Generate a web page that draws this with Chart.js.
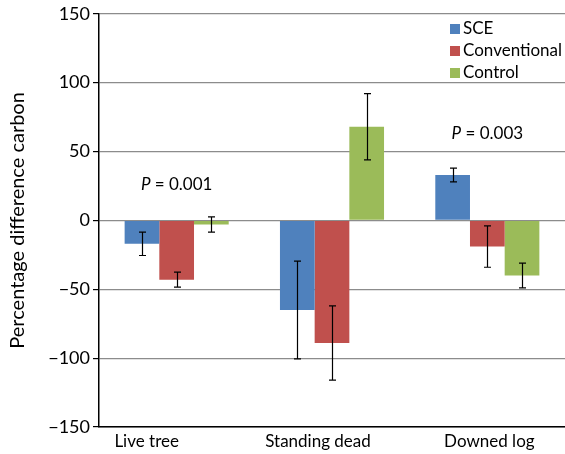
<!DOCTYPE html>
<html>
<head>
<meta charset="utf-8">
<script src="https://cdn.jsdelivr.net/npm/chart.js@4"></script>
<style>
  html, body { margin: 0; padding: 0; background: #fff; }
  #wrap { width: 565px; height: 454px; }
</style>
</head>
<body>
<div id="wrap"><canvas id="chart"></canvas></div>
<script>
const categories = ['Live tree', 'Standing dead', 'Downed log'];
const seriesNames = ['SCE', 'Conventional', 'Control'];
const sceValues = [-17, -65, 33];
const convValues = [-43, -89, -19];
const controlValues = [-3, 68, -40];
const sceErr = [8.5, 35.5, 5];
const convErr = [5.5, 27, 15];
const controlErr = [5.5, 24, 9];
const yTicks = [-150, -100, -50, 0, 50, 100, 150];
const pLabels = ['P = 0.001', null, 'P = 0.003'];
const pLabelY = [26, null, 63];

const colors = ['#4F81BD', '#C0504D', '#9BBB59'];
const fontFamily = 'Lato, "Open Sans", sans-serif';
const labelShift = [-30, -14, 2];  // excel puts the category names a bit left

// draws error bars, p value notes, legend, category names
const extras = {
    id: 'extras',
    afterDatasetsDraw(chart) {
        const ctx = chart.ctx;
        const y = chart.scales.y;
        const xs = chart.scales.x;
        ctx.save();
        ctx.strokeStyle = '#000';
        ctx.lineWidth = 1.2;
        chart.data.datasets.forEach((ds, i) => {
            const meta = chart.getDatasetMeta(i);
            meta.data.forEach((bar, j) => {
                const v = ds.data[j], e = ds.errors[j];
                const x = Math.round(bar.x) + 0.5;
                const y1 = y.getPixelForValue(v + e);
                const y2 = y.getPixelForValue(v - e);
                ctx.beginPath();
                ctx.moveTo(x, y1); ctx.lineTo(x, y2);
                ctx.moveTo(x - 3.5, y1); ctx.lineTo(x + 3.5, y1);
                ctx.moveTo(x - 3.5, y2); ctx.lineTo(x + 3.5, y2);
                ctx.stroke();
            });
        });
        // p labels
        ctx.fillStyle = '#000';
        ctx.textBaseline = 'middle';
        ctx.textAlign = 'left';
        pLabels.forEach((t, j) => {
            if (!t) return;
            const cx = xs.getPixelForValue(j);
            const py = y.getPixelForValue(pLabelY[j]);
            ctx.font = 'italic 17px ' + fontFamily;
            const pw = ctx.measureText('P').width;
            ctx.font = '17px ' + fontFamily;
            const rest = t.slice(1);
            const rw = ctx.measureText(rest).width;
            const x0 = cx - (pw + rw) / 2;
            ctx.font = 'italic 17px ' + fontFamily;
            ctx.fillText('P', x0, py);
            ctx.font = '17px ' + fontFamily;
            ctx.fillText(rest, x0 + pw, py);
        });
        // legend
        ctx.font = '17px ' + fontFamily;
        const legY = [29, 51, 73];
        seriesNames.forEach((n, i) => {
            ctx.fillStyle = colors[i];
            ctx.fillRect(450, legY[i] - 5, 10, 10);
            ctx.fillStyle = '#000';
            ctx.fillText(n, 463, legY[i]);
        });
        // category names
        ctx.textAlign = 'center';
        ctx.textBaseline = 'top';
        categories.forEach((c, j) => {
            ctx.fillText(c, xs.getPixelForValue(j) + labelShift[j], xs.top + 6);
        });
        ctx.restore();
    }
};

const makeDs = (label, data, errors, color) => ({
    label, data, errors,
    backgroundColor: color,
    borderWidth: 0,
    categoryPercentage: 0.67,
    barPercentage: 1.0
});

new Chart(document.getElementById('chart'), {
    type: 'bar',
    data: {
        labels: categories,
        datasets: [
            makeDs(seriesNames[0], sceValues, sceErr, colors[0]),
            makeDs(seriesNames[1], convValues, convErr, colors[1]),
            makeDs(seriesNames[2], controlValues, controlErr, colors[2])
        ]
    },
    options: {
        responsive: true,
        maintainAspectRatio: false,
        animation: false,
        layout: { padding: { top: 13, right: 0, left: 0, bottom: 0 } },
        plugins: {
            legend: { display: false },
            tooltip: { enabled: false }
        },
        scales: {
            x: {
                grid: { display: false },
                border: { color: '#000', width: 1.5 },
                ticks: { display: false },
                afterFit: (s) => { s.height = 27; }
            },
            y: {
                min: -150, max: 150,
                afterBuildTicks: (s) => { s.ticks = yTicks.map(v => ({ value: v })); },
                grid: { color: '#8c8c8c', lineWidth: 1.2, tickColor: '#000', tickLength: 6 },
                border: { color: '#000', width: 1.5 },
                ticks: {
                    color: '#000', font: { family: fontFamily, size: 18 }, padding: 3,
                    callback: (v) => String(v).replace('-', '\u2212')
                },
                title: {
                    display: true, text: 'Percentage difference carbon', color: '#000',
                    font: { family: fontFamily, size: 20 }, padding: { top: 6, bottom: 0 }
                },
                afterFit: (s) => { s.width = 99; }
            }
        }
    },
    plugins: [extras]
});
</script>
</body>
</html>
